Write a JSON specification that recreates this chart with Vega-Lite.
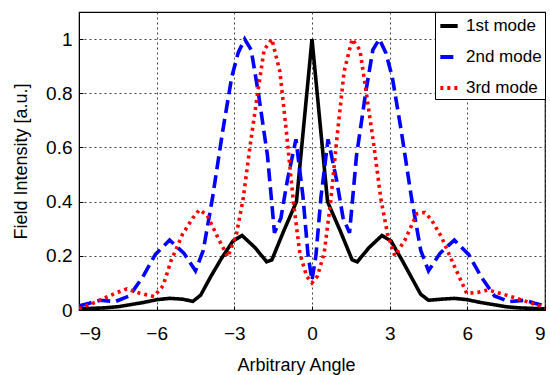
{
  "$schema": "https://vega.github.io/schema/vega-lite/v6.json",
  "width": 466,
  "height": 298,
  "autosize": {"type": "none"},
  "padding": {"left": 79, "top": 12, "right": 5, "bottom": 65},
  "background": "white",
  "config": {
    "font": "Liberation Sans",
    "view": {"stroke": "black", "strokeWidth": 1.2},
    "axis": {
      "domainColor": "black",
      "tickColor": "black",
      "labelColor": "black",
      "titleColor": "black",
      "gridColor": "#444444",
      "gridDash": [2, 3],
      "gridWidth": 1,
      "labelFontSize": 19,
      "titleFontWeight": "normal",
      "titleFontSize": 18,
      "tickSize": -4,
      "labelPadding": 14
    }
  },
  "data": {
    "values": [
      {"x": -9, "y": 0.004, "mode": "1st mode"},
      {"x": -8.5, "y": 0.006, "mode": "1st mode"},
      {"x": -8, "y": 0.008, "mode": "1st mode"},
      {"x": -7.5, "y": 0.012, "mode": "1st mode"},
      {"x": -7, "y": 0.02, "mode": "1st mode"},
      {"x": -6.5, "y": 0.028, "mode": "1st mode"},
      {"x": -6, "y": 0.038, "mode": "1st mode"},
      {"x": -5.5, "y": 0.043, "mode": "1st mode"},
      {"x": -5, "y": 0.04, "mode": "1st mode"},
      {"x": -4.6, "y": 0.032, "mode": "1st mode"},
      {"x": -4.3, "y": 0.055, "mode": "1st mode"},
      {"x": -3.9, "y": 0.125, "mode": "1st mode"},
      {"x": -3.5, "y": 0.19, "mode": "1st mode"},
      {"x": -3.05, "y": 0.255, "mode": "1st mode"},
      {"x": -2.7, "y": 0.275, "mode": "1st mode"},
      {"x": -2.2, "y": 0.23, "mode": "1st mode"},
      {"x": -1.75, "y": 0.178, "mode": "1st mode"},
      {"x": -1.55, "y": 0.185, "mode": "1st mode"},
      {"x": -1.1, "y": 0.29, "mode": "1st mode"},
      {"x": -0.6, "y": 0.4, "mode": "1st mode"},
      {"x": 0, "y": 1.0, "mode": "1st mode"},
      {"x": 0.6, "y": 0.4, "mode": "1st mode"},
      {"x": 1.1, "y": 0.29, "mode": "1st mode"},
      {"x": 1.55, "y": 0.185, "mode": "1st mode"},
      {"x": 1.75, "y": 0.178, "mode": "1st mode"},
      {"x": 2.2, "y": 0.23, "mode": "1st mode"},
      {"x": 2.7, "y": 0.275, "mode": "1st mode"},
      {"x": 3.05, "y": 0.255, "mode": "1st mode"},
      {"x": 3.5, "y": 0.18, "mode": "1st mode"},
      {"x": 3.9, "y": 0.11, "mode": "1st mode"},
      {"x": 4.2, "y": 0.058, "mode": "1st mode"},
      {"x": 4.5, "y": 0.036, "mode": "1st mode"},
      {"x": 5, "y": 0.04, "mode": "1st mode"},
      {"x": 5.5, "y": 0.043, "mode": "1st mode"},
      {"x": 6, "y": 0.038, "mode": "1st mode"},
      {"x": 6.5, "y": 0.028, "mode": "1st mode"},
      {"x": 7, "y": 0.02, "mode": "1st mode"},
      {"x": 7.5, "y": 0.012, "mode": "1st mode"},
      {"x": 8, "y": 0.008, "mode": "1st mode"},
      {"x": 8.5, "y": 0.006, "mode": "1st mode"},
      {"x": 9, "y": 0.004, "mode": "1st mode"},

      {"x": -9, "y": 0.015, "mode": "2nd mode"},
      {"x": -8.6, "y": 0.025, "mode": "2nd mode"},
      {"x": -8.2, "y": 0.036, "mode": "2nd mode"},
      {"x": -7.6, "y": 0.031, "mode": "2nd mode"},
      {"x": -7.05, "y": 0.052, "mode": "2nd mode"},
      {"x": -6.55, "y": 0.12, "mode": "2nd mode"},
      {"x": -6.05, "y": 0.205, "mode": "2nd mode"},
      {"x": -5.5, "y": 0.258, "mode": "2nd mode"},
      {"x": -4.95, "y": 0.21, "mode": "2nd mode"},
      {"x": -4.5, "y": 0.145, "mode": "2nd mode"},
      {"x": -4.2, "y": 0.22, "mode": "2nd mode"},
      {"x": -3.85, "y": 0.41, "mode": "2nd mode"},
      {"x": -3.45, "y": 0.66, "mode": "2nd mode"},
      {"x": -3.1, "y": 0.86, "mode": "2nd mode"},
      {"x": -2.85, "y": 0.95, "mode": "2nd mode"},
      {"x": -2.6, "y": 1.0, "mode": "2nd mode"},
      {"x": -2.35, "y": 0.96, "mode": "2nd mode"},
      {"x": -2.07, "y": 0.8, "mode": "2nd mode"},
      {"x": -1.72, "y": 0.57, "mode": "2nd mode"},
      {"x": -1.45, "y": 0.285, "mode": "2nd mode"},
      {"x": -1.2, "y": 0.34, "mode": "2nd mode"},
      {"x": -0.95, "y": 0.48, "mode": "2nd mode"},
      {"x": -0.62, "y": 0.63, "mode": "2nd mode"},
      {"x": -0.35, "y": 0.42, "mode": "2nd mode"},
      {"x": -0.15, "y": 0.2, "mode": "2nd mode"},
      {"x": 0, "y": 0.11, "mode": "2nd mode"},
      {"x": 0.15, "y": 0.2, "mode": "2nd mode"},
      {"x": 0.35, "y": 0.42, "mode": "2nd mode"},
      {"x": 0.62, "y": 0.63, "mode": "2nd mode"},
      {"x": 0.95, "y": 0.48, "mode": "2nd mode"},
      {"x": 1.2, "y": 0.34, "mode": "2nd mode"},
      {"x": 1.45, "y": 0.285, "mode": "2nd mode"},
      {"x": 1.72, "y": 0.57, "mode": "2nd mode"},
      {"x": 2.07, "y": 0.8, "mode": "2nd mode"},
      {"x": 2.35, "y": 0.96, "mode": "2nd mode"},
      {"x": 2.6, "y": 1.0, "mode": "2nd mode"},
      {"x": 2.85, "y": 0.95, "mode": "2nd mode"},
      {"x": 3.1, "y": 0.86, "mode": "2nd mode"},
      {"x": 3.45, "y": 0.66, "mode": "2nd mode"},
      {"x": 3.85, "y": 0.41, "mode": "2nd mode"},
      {"x": 4.2, "y": 0.22, "mode": "2nd mode"},
      {"x": 4.5, "y": 0.145, "mode": "2nd mode"},
      {"x": 4.95, "y": 0.21, "mode": "2nd mode"},
      {"x": 5.5, "y": 0.258, "mode": "2nd mode"},
      {"x": 6.05, "y": 0.205, "mode": "2nd mode"},
      {"x": 6.55, "y": 0.12, "mode": "2nd mode"},
      {"x": 7.05, "y": 0.052, "mode": "2nd mode"},
      {"x": 7.6, "y": 0.031, "mode": "2nd mode"},
      {"x": 8.2, "y": 0.036, "mode": "2nd mode"},
      {"x": 8.6, "y": 0.025, "mode": "2nd mode"},
      {"x": 9, "y": 0.015, "mode": "2nd mode"},

      {"x": -9, "y": 0.005, "mode": "3rd mode"},
      {"x": -8.3, "y": 0.031, "mode": "3rd mode"},
      {"x": -7.6, "y": 0.062, "mode": "3rd mode"},
      {"x": -7.15, "y": 0.078, "mode": "3rd mode"},
      {"x": -6.65, "y": 0.062, "mode": "3rd mode"},
      {"x": -6.1, "y": 0.05, "mode": "3rd mode"},
      {"x": -5.75, "y": 0.09, "mode": "3rd mode"},
      {"x": -5.45, "y": 0.18, "mode": "3rd mode"},
      {"x": -5, "y": 0.28, "mode": "3rd mode"},
      {"x": -4.6, "y": 0.34, "mode": "3rd mode"},
      {"x": -4.35, "y": 0.37, "mode": "3rd mode"},
      {"x": -4.05, "y": 0.35, "mode": "3rd mode"},
      {"x": -3.6, "y": 0.26, "mode": "3rd mode"},
      {"x": -3.25, "y": 0.196, "mode": "3rd mode"},
      {"x": -2.92, "y": 0.28, "mode": "3rd mode"},
      {"x": -2.66, "y": 0.41, "mode": "3rd mode"},
      {"x": -2.4, "y": 0.6, "mode": "3rd mode"},
      {"x": -2.1, "y": 0.8, "mode": "3rd mode"},
      {"x": -1.85, "y": 0.96, "mode": "3rd mode"},
      {"x": -1.55, "y": 1.0, "mode": "3rd mode"},
      {"x": -1.24, "y": 0.88, "mode": "3rd mode"},
      {"x": -0.98, "y": 0.65, "mode": "3rd mode"},
      {"x": -0.72, "y": 0.4, "mode": "3rd mode"},
      {"x": -0.47, "y": 0.21, "mode": "3rd mode"},
      {"x": -0.21, "y": 0.125, "mode": "3rd mode"},
      {"x": 0, "y": 0.1, "mode": "3rd mode"},
      {"x": 0.21, "y": 0.125, "mode": "3rd mode"},
      {"x": 0.47, "y": 0.21, "mode": "3rd mode"},
      {"x": 0.72, "y": 0.4, "mode": "3rd mode"},
      {"x": 0.98, "y": 0.65, "mode": "3rd mode"},
      {"x": 1.24, "y": 0.88, "mode": "3rd mode"},
      {"x": 1.55, "y": 1.0, "mode": "3rd mode"},
      {"x": 1.85, "y": 0.96, "mode": "3rd mode"},
      {"x": 2.1, "y": 0.8, "mode": "3rd mode"},
      {"x": 2.4, "y": 0.6, "mode": "3rd mode"},
      {"x": 2.66, "y": 0.41, "mode": "3rd mode"},
      {"x": 2.92, "y": 0.28, "mode": "3rd mode"},
      {"x": 3.2, "y": 0.2, "mode": "3rd mode"},
      {"x": 3.6, "y": 0.26, "mode": "3rd mode"},
      {"x": 4.05, "y": 0.355, "mode": "3rd mode"},
      {"x": 4.35, "y": 0.36, "mode": "3rd mode"},
      {"x": 4.6, "y": 0.335, "mode": "3rd mode"},
      {"x": 5, "y": 0.27, "mode": "3rd mode"},
      {"x": 5.45, "y": 0.172, "mode": "3rd mode"},
      {"x": 5.98, "y": 0.061, "mode": "3rd mode"},
      {"x": 6.4, "y": 0.065, "mode": "3rd mode"},
      {"x": 6.8, "y": 0.074, "mode": "3rd mode"},
      {"x": 7.5, "y": 0.055, "mode": "3rd mode"},
      {"x": 8.3, "y": 0.031, "mode": "3rd mode"},
      {"x": 9, "y": 0.008, "mode": "3rd mode"}
    ]
  },
  "mark": {"type": "line", "strokeWidth": 3.6, "clip": true},
  "encoding": {
    "x": {
      "field": "x",
      "type": "quantitative",
      "scale": {"domain": [-9, 9], "nice": false, "zero": false},
      "axis": {
        "values": [-9, -6, -3, 0, 3, 6, 9],
        "title": "Arbitrary Angle",
        "labelPadding": 18,
        "titleX": 217,
        "titleY": 60,
        "titleAlign": "center",
        "titleBaseline": "alphabetic"
      }
    },
    "y": {
      "field": "y",
      "type": "quantitative",
      "scale": {"domain": [0, 1.1], "nice": false},
      "axis": {"values": [0, 0.2, 0.4, 0.6, 0.8, 1], "format": "~g", "title": "Field Intensity [a.u.]", "titlePadding": 15, "labelPadding": 11}
    },
    "color": {
      "field": "mode",
      "type": "nominal",
      "scale": {"domain": ["1st mode", "2nd mode", "3rd mode"], "range": ["black", "#0000ff", "#ff0000"]},
      "legend": {
        "title": null,
        "orient": "top-right",
        "offset": 0,
        "fillColor": "white",
        "strokeColor": "black",
        "padding": 3,
        "rowPadding": 12,
        "labelFontSize": 17,
        "labelColor": "black",
        "labelOffset": 6,
        "symbolType": "stroke",
        "symbolSize": 300,
        "symbolStrokeWidth": 4
      }
    },
    "strokeDash": {
      "field": "mode",
      "type": "nominal",
      "scale": {"domain": ["1st mode", "2nd mode", "3rd mode"], "range": [[1, 0], [13, 6], [3, 4]]},
      "legend": null
    }
  }
}
